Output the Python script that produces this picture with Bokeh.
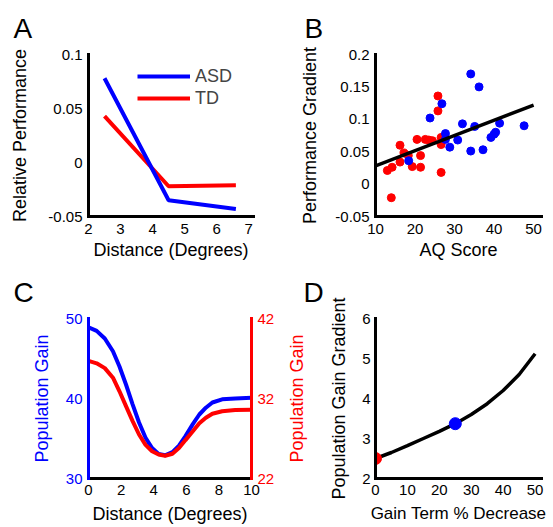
from bokeh.plotting import figure
from bokeh.layouts import column, row
from bokeh.models import (Range1d, LinearAxis, FixedTicker, CustomJSTickFormatter,
                          Legend, LegendItem)
from bokeh.embed import file_html
from bokeh.resources import INLINE

FONT = "Liberation Sans"
BLUE = "#0000FF"
RED = "#FF0000"

# ---------------- Panel A data ----------------
a_distance = [2.5, 4.5, 6.6]
a_asd = [0.078, -0.035, -0.043]
a_td = [0.043, -0.022, -0.021]
a_xticks = [2, 3, 4, 5, 6, 7]
a_yticks = [-0.05, 0, 0.05, 0.1]

# ---------------- Panel B data ----------------
b_td_aq = [13.0, 14.2, 14.0, 16.2, 16.2, 17.2, 18.3, 19.3, 20.5, 21.4, 21.4,
           22.6, 23.5, 24.4, 25.8, 25.8, 26.6, 26.6, 26.6]
b_td_grad = [0.021, 0.026, -0.021, 0.060, 0.034, 0.048, 0.044, 0.027, 0.069, 0.044,
             0.026, 0.069, 0.068, 0.067, 0.136, 0.113, 0.072, 0.061, 0.018]
b_asd_aq = [18.4, 23.8, 26.8, 27.7, 27.7, 28.8, 30.8, 32.0, 34.1, 34.1, 35.1,
            36.2, 37.2, 39.2, 40.0, 40.4, 41.4, 47.6]
b_asd_grad = [0.036, 0.102, 0.124, 0.078, 0.069, 0.057, 0.068, 0.093, 0.170, 0.051,
              0.089, 0.150, 0.053, 0.072, 0.077, 0.080, 0.094, 0.090]
b_fit_aq = [10, 50]
b_fit_grad = [0.028, 0.122]
b_xticks = [10, 20, 30, 40, 50]
b_yticks = [-0.05, 0, 0.05, 0.1, 0.15, 0.2]

# ---------------- Panel C data ----------------
c_distance = [0, 0.5, 1.0, 1.5, 1.9, 2.3, 2.7, 3.1, 3.5, 3.9, 4.3, 4.7, 5.15,
              5.55, 5.95, 6.4, 6.8, 7.2, 7.6, 8.2, 9.0, 10]
c_asd_gain = [48.9, 48.45, 47.5, 45.9, 44.0, 41.75, 39.3, 37.0, 35.1, 33.8, 33.06,
              32.9, 33.3, 34.1, 35.3, 36.8, 38.0, 38.85, 39.5, 39.9, 40.0, 40.1]
c_td_gain = [36.7, 36.4, 35.8, 34.6, 32.9, 31.05, 29.2, 27.5, 26.2, 25.4, 25.0,
             24.85, 25.1, 25.8, 26.8, 27.9, 28.9, 29.6, 30.1, 30.4, 30.55, 30.6]
c_xticks = [0, 2, 4, 6, 8, 10]
c_left_ticks = [30, 40, 50]
c_right_ticks = [22, 32, 42]

# ---------------- Panel D data ----------------
d_decrease = [0, 5, 10, 15, 20, 25, 30, 35, 40, 45, 50]
d_gradient = [2.5, 2.65, 2.82, 3.0, 3.18, 3.37, 3.6, 3.87, 4.2, 4.6, 5.12]
d_td_x = [0]
d_td_y = [2.5]
d_asd_x = [25]
d_asd_y = [3.37]
d_xticks = [0, 10, 20, 30, 40, 50]
d_yticks = [2, 3, 4, 5, 6]

FMT = CustomJSTickFormatter(code="return String(tick);")


def style_axis(ax, ticks, color="black", label_standoff=10, tick_standoff=6):
    ax.ticker = FixedTicker(ticks=ticks)
    ax.formatter = FMT
    ax.axis_line_color = color
    ax.axis_line_width = 3
    ax.axis_line_cap = "square"
    ax.major_tick_line_color = None
    ax.minor_tick_line_color = None
    ax.major_tick_out = 0
    ax.major_tick_in = 0
    ax.minor_tick_out = 0
    ax.minor_tick_in = 0
    ax.major_label_text_font = FONT
    ax.major_label_text_font_size = "15px"
    ax.major_label_text_color = color
    ax.axis_label_text_font = FONT
    ax.axis_label_text_font_size = "18px"
    ax.axis_label_text_font_style = "normal"
    ax.axis_label_text_color = color
    ax.major_label_standoff = tick_standoff
    ax.axis_label_standoff = label_standoff


def make_fig(letter, offset, w, h, xr, yr, left, right, top, bottom, standoff):
    p = figure(width=w, height=h, x_range=xr, y_range=yr, output_backend="svg",
               toolbar_location=None, title=letter,
               min_border_left=left, min_border_right=right,
               min_border_top=top, min_border_bottom=bottom)
    p.outline_line_color = None
    p.grid.visible = False
    p.background_fill_color = "white"
    p.border_fill_color = "white"
    p.title.align = "left"
    p.title.vertical_align = "middle"
    p.title.offset = offset
    p.title.text_font = FONT
    p.title.text_font_size = "28px"
    p.title.text_font_style = "normal"
    p.title.text_color = "black"
    p.title.standoff = standoff
    return p


# ---------------- Panel A ----------------
pa = make_fig("A", -75, 276, 264, Range1d(2, 7.15), Range1d(-0.05, 0.1), 88, 23, 54, 48, 19)
r_td = pa.line(a_distance, a_td, line_color=RED, line_width=4)
r_asd = pa.line(a_distance, a_asd, line_color=BLUE, line_width=4)
pa.xaxis.axis_label = "Distance (Degrees)"
pa.yaxis.axis_label = "Relative Performance"
style_axis(pa.xaxis[0], a_xticks, label_standoff=3, tick_standoff=7)
style_axis(pa.yaxis[0], a_yticks, label_standoff=15)
leg = Legend(items=[LegendItem(label="ASD", renderers=[r_asd]),
                    LegendItem(label="TD", renderers=[r_td])],
             location=(49, 107), padding=0, margin=0, spacing=0,
             glyph_width=53, glyph_height=22, label_height=22, label_standoff=5,
             border_line_color=None, background_fill_alpha=0,
             label_text_font=FONT, label_text_font_size="18px")
pa.add_layout(leg)

# ---------------- Panel B ----------------
pb = make_fig("B", -71, 277, 264, Range1d(10, 52), Range1d(-0.05, 0.2), 99, 12, 54, 48, 19)
pb.scatter(b_td_aq, b_td_grad, marker="circle", size=8, fill_color=RED, line_color=RED)
pb.scatter(b_asd_aq, b_asd_grad, marker="circle", size=8, fill_color=BLUE, line_color=BLUE)
pb.line(b_fit_aq, b_fit_grad, line_color="black", line_width=3.5)
pb.xaxis.axis_label = "AQ Score"
pb.yaxis.axis_label = "Performance Gradient"
style_axis(pb.xaxis[0], b_xticks, label_standoff=3, tick_standoff=7)
style_axis(pb.yaxis[0], b_yticks, label_standoff=12)

# ---------------- Panel C ----------------
pc = make_fig("C", -75, 283, 263, Range1d(0, 10), Range1d(30, 50), 88, 32, 53, 49, 19)
pc.extra_y_ranges = {"td": Range1d(22, 42)}
pc.line(c_distance, c_asd_gain, line_color=BLUE, line_width=4)
pc.line(c_distance, c_td_gain, line_color=RED, line_width=4, y_range_name="td")
pc.xaxis.axis_label = "Distance (Degrees)"
pc.yaxis.axis_label = "Population Gain"
style_axis(pc.xaxis[0], c_xticks, label_standoff=6, tick_standoff=6)
style_axis(pc.yaxis[0], c_left_ticks, color=BLUE, label_standoff=11)
right_ax = LinearAxis(y_range_name="td")
style_axis(right_ax, c_right_ticks, color=RED, label_standoff=0)
pc.add_layout(right_ax, "right")

# ---------------- Panel D ----------------
pd_ = make_fig("D", -72, 270, 263, Range1d(0, 52), Range1d(2, 6), 92, 12, 54, 49, 19)
pd_.line(d_decrease, d_gradient, line_color="black", line_width=3.5)
pd_.scatter(d_td_x, d_td_y, marker="circle", size=12, fill_color=RED, line_color=RED)
pd_.scatter(d_asd_x, d_asd_y, marker="circle", size=12, fill_color=BLUE, line_color=BLUE)
pd_.xaxis.axis_label = "Gain Term % Decrease"
pd_.yaxis.axis_label = "Population Gain Gradient"
style_axis(pd_.xaxis[0], d_xticks, label_standoff=6, tick_standoff=6)
style_axis(pd_.yaxis[0], d_yticks, label_standoff=10, tick_standoff=5)
pd_.xaxis[0].axis_label_text_font_size = "17px"
# red label of panel C's right (TD) axis, which sits beside panel D
c_right_label = LinearAxis(axis_label="Population Gain")
style_axis(c_right_label, [], color=RED, label_standoff=20, tick_standoff=0)
c_right_label.axis_line_color = None
pd_.add_layout(c_right_label, "left")

layout = column(row(pa, pb), row(pc, pd_))

open("out.html", "w").write(file_html(layout, INLINE))
